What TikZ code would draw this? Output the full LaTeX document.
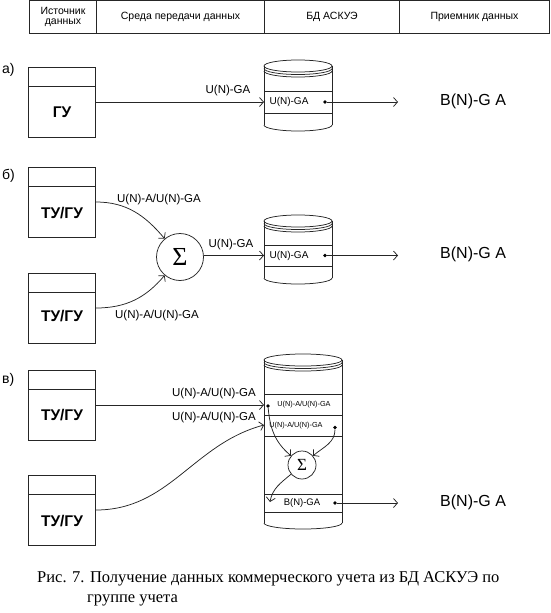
\documentclass[tikz,border=0pt]{standalone}
\usepackage{fontspec}
\setmainfont{Liberation Sans}
\newfontfamily\capfont{Liberation Serif}
\usetikzlibrary{arrows.meta}
\newcommand\fs[1]{\fontsize{#1}{#1}\selectfont}
\newcommand\dbcyl[4]{% cx, half width, top, bottom
  \draw[ln] (#1,#3+6) ellipse [x radius=#2, y radius=6];
  \draw[ln] (#1-#2,#3+6) -- (#1-#2,#4-6);
  \draw[ln] (#1+#2,#3+6) -- (#1+#2,#4-6);
  \draw[ln] (#1-#2,#3+8.5) arc[start angle=180, end angle=0, x radius=#2, y radius=6];
  \draw[ln] (#1-#2,#3+11) arc[start angle=180, end angle=0, x radius=#2, y radius=6];
  \draw[ln] (#1-#2,#4-6) arc[start angle=180, end angle=0, x radius=#2, y radius=6];
}
\begin{document}
\begin{tikzpicture}[x=1pt,y=-1pt,
  ln/.style={line width=0.75pt, draw=black!85},
  arr/.style={ln, -{Straight Barb[length=4pt,width=9pt,line width=0.75pt]}},
  hdr/.style={draw=black!85, line width=0.8pt, minimum height=33pt, inner sep=0pt, font=\fs{10.5}, align=center},
  src/.style={draw=black!85, line width=0.8pt, minimum width=67pt, minimum height=70pt, inner sep=0pt},
  srctxt/.style={font=\bfseries\fs{15.5}, inner sep=0pt},
  lbl/.style={font=\fs{11.5}, inner sep=0pt},
  row/.style={font=\fs{10}, inner sep=0pt},
  small/.style={font=\fs{7.3}, inner sep=0pt},
  big/.style={font=\fs{16}, inner sep=0pt, anchor=west},
  part/.style={font=\fs{14}, inner sep=0pt, anchor=west},
  sig/.style={circle, draw=black!85, line width=0.75pt, inner sep=0pt},
  dot/.style={circle, fill=black, inner sep=0pt, minimum size=3.6pt},
]
\useasboundingbox (0,0) rectangle (550,613);
% header
\node[hdr, minimum width=67pt] (h1) at (63,17) {Источник\\[-1pt]данных};
\node[hdr, minimum width=168pt] (h2) at (180.5,17) {Среда передачи данных};
\node[hdr, minimum width=135pt] (h3) at (332,17) {БД АСКУЭ};
\node[hdr, minimum width=150pt] (h4) at (474.5,17) {Приемник данных};

% ---------- a)
\node[part] (pa) at (2,70) {а)};
\node[src] (ga) at (62,102) {};
\draw[ln, line width=0.8pt] ([yshift=-20pt]ga.north west) -- ([yshift=-20pt]ga.north east);
\node[srctxt] (gat) at (62,112) {ГУ};
\dbcyl{298}{34}{60}{131}
\draw[ln] (264,91) -- (332,91);
\draw[ln] (264,113) -- (332,113);
\coordinate (ain) at (264,102);
\node[row] (ar) at (289,102) {U(N)-GA};
\node[dot] (ad) at (325,102) {};
\coordinate (aout) at (398,102);
\draw[arr] (ga.east) -- (ain);
\node[lbl] (al) at (228,91) {U(N)-GA};
\draw[arr] (ad) -- (aout);
\node[big] (ab) at (440,101) {B(N)-G A};

% ---------- б)
\node[part] (pb) at (2,176) {б)};
\node[src] (tb1) at (62,202) {};
\draw[ln, line width=0.8pt] ([yshift=-20pt]tb1.north west) -- ([yshift=-20pt]tb1.north east);
\node[srctxt] (tb1t) at (62,213) {ТУ/ГУ};
\node[src] (tb2) at (62,308) {};
\draw[ln, line width=0.8pt] ([yshift=-20pt]tb2.north west) -- ([yshift=-20pt]tb2.north east);
\node[srctxt] (tb2t) at (62,316) {ТУ/ГУ};
\node[sig, minimum size=47pt] (sb) at (180,257) {\capfont\fs{26}Σ};
\draw[arr] (tb1.east) to[out=0, in=130] (sb);
\draw[arr] (tb2.east) to[out=0, in=-130] (sb);
\node[lbl] (bl1) at (159,200) {U(N)-A/U(N)-GA};
\node[lbl] (bl2) at (157,316) {U(N)-A/U(N)-GA};
\dbcyl{298}{34}{215}{284}
\draw[ln] (264,245) -- (332,245);
\draw[ln] (264,266) -- (332,266);
\coordinate (bin) at (264,255.5);
\node[row] (br) at (289,255.5) {U(N)-GA};
\node[dot] (bd) at (325,255.5) {};
\coordinate (bout) at (398,255.5);
\draw[arr] (sb.east |- bin) -- (bin);
\node[lbl] (bl3) at (231,245) {U(N)-GA};
\draw[arr] (bd) -- (bout);
\node[big] (bb) at (440,254) {B(N)-G A};

% ---------- в)
\node[part] (pc) at (2,380) {в)};
\node[src] (tc1) at (62,405) {};
\draw[ln, line width=0.8pt] ([yshift=-20pt]tc1.north west) -- ([yshift=-20pt]tc1.north east);
\node[srctxt] (tc1t) at (62,415) {ТУ/ГУ};
\node[src] (tc2) at (62,510) {};
\draw[ln, line width=0.8pt] ([yshift=-20pt]tc2.north west) -- ([yshift=-20pt]tc2.north east);
\node[srctxt] (tc2t) at (62,521) {ТУ/ГУ};
\dbcyl{303}{39}{354}{529}
\draw[ln] (264,394) -- (342,394);
\draw[ln] (264,415) -- (342,415);
\draw[ln] (264,436) -- (342,436);
\draw[ln] (264,494) -- (342,494);
\draw[ln] (264,512) -- (342,512);
\coordinate (cin1) at (264,405);
\coordinate (cin2) at (264,425);
\node[small] (cr1) at (304,405) {U(N)-A/U(N)-GA};
\node[small] (cr2) at (296,425.5) {U(N)-A/U(N)-GA};
\node[row, font=\fs{9.5}] (cr3) at (302,503) {B(N)-GA};
\node[dot] (cd1) at (268,406) {};
\node[dot] (cd2) at (335,427.5) {};
\node[dot] (cd3) at (335,503) {};
\draw[arr] (tc1.east) -- (cin1);
\draw[arr] (tc2.east) to[out=0, in=195] (cin2);
\node[lbl] (cl1) at (214,394) {U(N)-A/U(N)-GA};
\node[lbl] (cl2) at (214,418) {U(N)-A/U(N)-GA};
\node[sig, minimum size=28pt] (sc) at (302,465) {\capfont\fs{17}Σ};
\draw[arr] (cd1) to[out=-85, in=140] (sc);
\draw[arr] (cd2) to[out=-90, in=40] (sc);
\coordinate (ctip) at (270,502);
\draw[arr] (sc) to[out=-140, in=80] (ctip);
\coordinate (cout) at (398,503);
\draw[arr] (cd3) -- (cout);
\node[big] (cb) at (440,502) {B(N)-G A};

% caption
\node[font=\capfont\fs{16.5}, anchor=west, inner sep=0pt] (cap1) at (37,579) {Рис. 7. Получение данных коммерческого учета из БД АСКУЭ по};
\node[font=\capfont\fs{16.5}, anchor=west, inner sep=0pt] (cap2) at (87,600) {группе учета};
\end{tikzpicture}
\end{document}
